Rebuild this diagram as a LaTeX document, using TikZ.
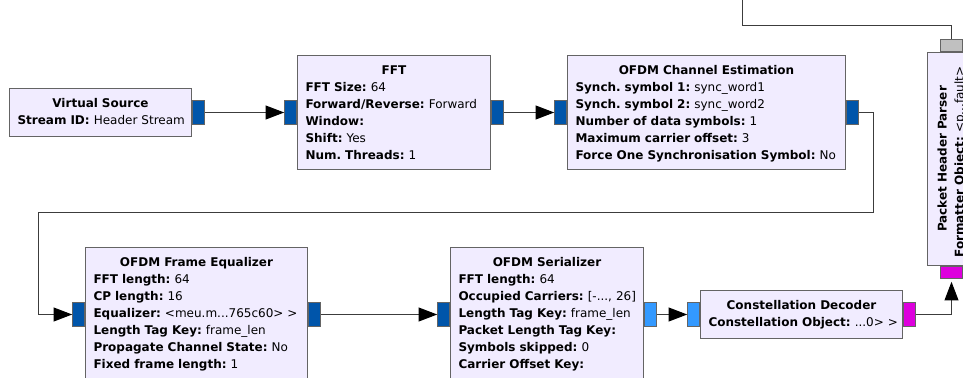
\documentclass[tikz,border=0pt]{standalone}
\usepackage{fontspec}
\setmainfont{DejaVu Sans}
\usepackage{tikz}
\usetikzlibrary{arrows.meta,positioning,calc}
\definecolor{blockfill}{RGB}{241,236,255}
\definecolor{blockedge}{RGB}{100,100,100}
\definecolor{vecblue}{RGB}{0,85,170}
\definecolor{cplxblue}{RGB}{51,153,255}
\definecolor{bytepink}{RGB}{221,0,221}
\definecolor{msggray}{RGB}{192,192,192}
\definecolor{wire}{RGB}{60,60,60}
\newcommand{\blocktitle}[1]{\makebox[\linewidth]{\bfseries #1}}
\newcommand{\param}[2]{\mbox{\textbf{#1:} #2}}
\frenchspacing

\begin{document}
\begin{tikzpicture}[x=0.75pt, y=-0.75pt,
  block/.style={rectangle, draw=blockedge, fill=blockfill, line width=0.75pt, anchor=north west, inner xsep=6pt, inner ysep=0pt, text height=14.25pt, align=left, font=\fontsize{9}{12.75}\selectfont},
  port/.style={rectangle, draw=blockedge, line width=0.6pt, inner sep=0pt, minimum width=9pt, minimum height=18pt},
  hport/.style={port, minimum width=16.5pt, minimum height=9pt},
  link/.style={draw=wire, line width=0.75pt, -{Triangle[length=14pt, width=10.5pt, color=black]}},
  msglink/.style={draw=wire, line width=0.75pt}
]
  \clip (0,0) rectangle (963,378);

  % header chain, top row
  \node[block, text width=124.5pt, text depth=21.75pt] (vsrc) at (9,88) {\blocktitle{Virtual Source}\\ \param{Stream ID}{Header Stream}};
  \node[block, text width=132.75pt, text depth=71.25pt] (fft) at (297,55) {\blocktitle{FFT}\\ \param{FFT Size}{64}\\ \param{Forward/Reverse}{Forward}\\ \param{Window}{}\\ \param{Shift}{Yes}\\ \param{Num. Threads}{1}};
  \node[block, text width=196.5pt, text depth=71.25pt] (chanest) at (567,55) {\blocktitle{OFDM Channel Estimation}\\ \param{Synch. symbol 1}{sync\_word1}\\ \param{Synch. symbol 2}{sync\_word2}\\ \param{Number of data symbols}{1}\\ \param{Maximum carrier offset}{3}\\ \param{Force One Synchronisation Symbol}{No}};

  % bottom row
  \node[block, text width=154.5pt, text depth=86.25pt] (frameeq) at (85,247) {\blocktitle{OFDM Frame Equalizer}\\ \param{FFT length}{64}\\ \param{CP length}{16}\\ \param{Equalizer}{<meu.m...765c60> >}\\ \param{Length Tag Key}{frame\_len}\\ \param{Propagate Channel State}{No}\\ \param{Fixed frame length}{1}};
  \node[block, text width=132.75pt, text depth=86.25pt] (serial) at (450,247) {\blocktitle{OFDM Serializer}\\ \param{FFT length}{64}\\ \param{Occupied Carriers}{[-..., 26]}\\ \param{Length Tag Key}{frame\_len}\\ \param{Packet Length Tag Key}{}\\ \param{Symbols skipped}{0}\\ \param{Carrier Offset Key}{}};
  \node[block, text width=139.5pt, text depth=21.75pt] (decoder) at (700,290) {\blocktitle{Constellation Decoder}\\ \param{Constellation Object}{...0> >}};
  \node[block, rotate=90, text width=147.75pt, text depth=21.75pt] (parser) at (927,266) {\blocktitle{Packet Header Parser}\\ \param{Formatter Object}{<p...fault>}};

  % ports
  \node[port, fill=vecblue, anchor=west] (vsrcout) at (vsrc.east) {};
  \node[port, fill=vecblue, anchor=east] (fftin) at (fft.west) {};
  \node[port, fill=vecblue, anchor=west] (fftout) at (fft.east) {};
  \node[port, fill=vecblue, anchor=east] (chanestin) at (chanest.west) {};
  \node[port, fill=vecblue, anchor=west] (chanestout) at (chanest.east) {};
  \node[port, fill=vecblue, anchor=east] (frameeqin) at (frameeq.west) {};
  \node[port, fill=vecblue, anchor=west] (frameeqout) at (frameeq.east) {};
  \node[port, fill=vecblue, anchor=east] (serialin) at (serial.west) {};
  \node[port, fill=cplxblue, anchor=west] (serialout) at (serial.east) {};
  \node[port, fill=cplxblue, anchor=east] (decoderin) at (decoder.west) {};
  \node[port, fill=bytepink, anchor=west] (decoderout) at (decoder.east) {};
  \node[hport, fill=bytepink, anchor=north] (parserin) at (parser.west) {};
  \node[hport, fill=msggray, anchor=south] (parsermsg) at (parser.east) {};
  \coordinate (parsermsgend) at (742,-4);

  % connections
  \draw[link] (vsrcout) -- (fftin);
  \draw[link] (fftout) -- (chanestin);
  \draw[link] (chanestout.east) -- ++(15,0) |- (38,212) |- (frameeqin.west);
  \draw[link] (frameeqout) -- (serialin);
  \draw[link] (serialout) -- (decoderin);
  \draw[link] (decoderout.east) -| ($(parserin.south)+(0,3)$);
  \draw[msglink] (parsermsg.north) -- ++(0,-14) -| (parsermsgend);
\end{tikzpicture}
\end{document}
